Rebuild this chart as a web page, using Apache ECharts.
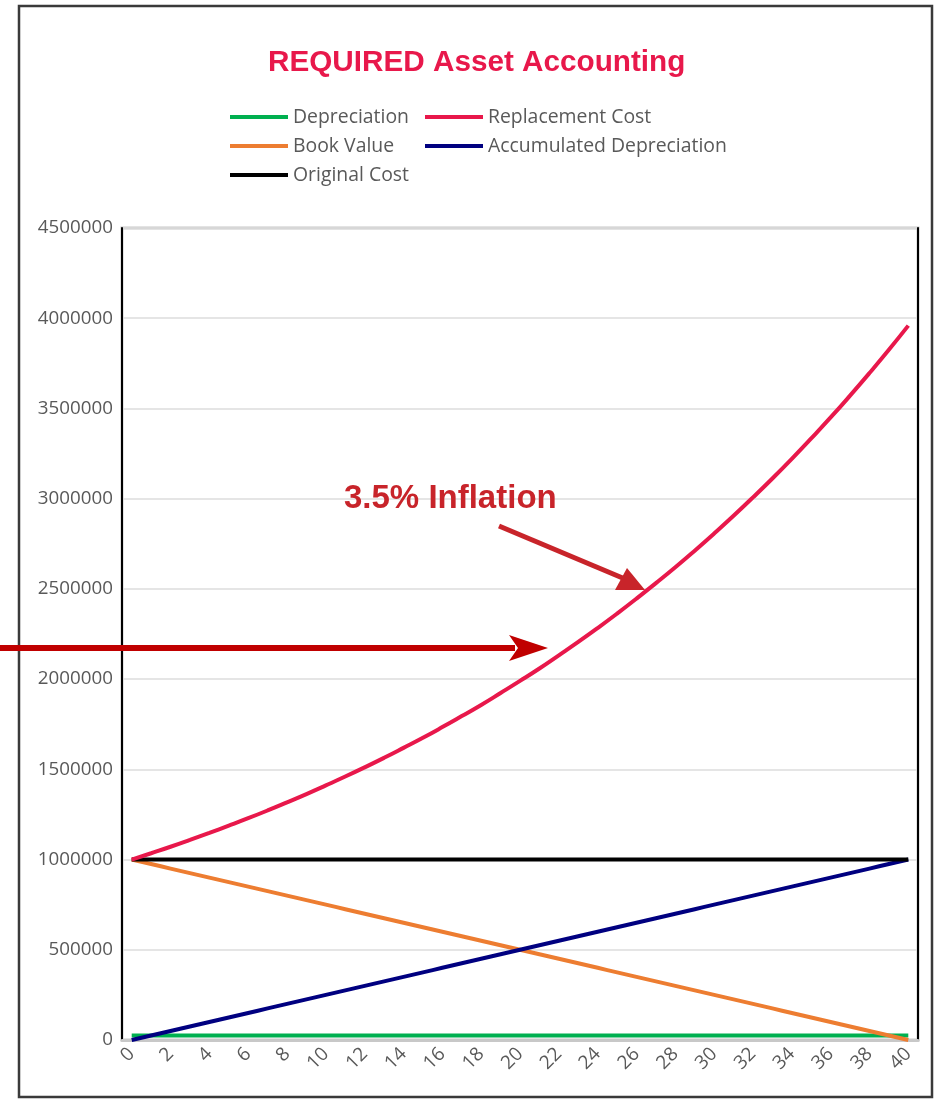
<!DOCTYPE html>
<html>
<head>
<meta charset="utf-8">
<script src="https://cdn.jsdelivr.net/npm/echarts@6/dist/echarts.min.js"></script>
<style>
  html, body { margin: 0; padding: 0; background: #fff; }
  #chart { width: 939px; height: 1099px; }
</style>
</head>
<body>
<div id="chart"></div>
<script>
const years = [];
for (let i = 0; i <= 40; i++) years.push(String(i));

const depreciation = [
  25000, 25000, 25000, 25000, 25000, 25000, 25000, 25000, 25000, 25000, 25000,
  25000, 25000, 25000, 25000, 25000, 25000, 25000, 25000, 25000, 25000,
  25000, 25000, 25000, 25000, 25000, 25000, 25000, 25000, 25000, 25000,
  25000, 25000, 25000, 25000, 25000, 25000, 25000, 25000, 25000, 25000
];
const replacementCost = [
  1000000, 1035000, 1071000, 1109000, 1148000, 1188000, 1229000, 1272000, 1317000, 1363000, 1411000,
  1460000, 1511000, 1564000, 1619000, 1675000, 1734000, 1795000, 1857000, 1923000, 1990000,
  2059000, 2132000, 2206000, 2283000, 2363000, 2446000, 2532000, 2620000, 2712000, 2807000,
  2905000, 3007000, 3112000, 3221000, 3334000, 3450000, 3571000, 3696000, 3825000, 3959000
];
const bookValue = [
  1000000, 975000, 950000, 925000, 900000, 875000, 850000, 825000, 800000, 775000, 750000,
  725000, 700000, 675000, 650000, 625000, 600000, 575000, 550000, 525000, 500000,
  475000, 450000, 425000, 400000, 375000, 350000, 325000, 300000, 275000, 250000,
  225000, 200000, 175000, 150000, 125000, 100000, 75000, 50000, 25000, 0
];
const accumulatedDepreciation = [
  0, 25000, 50000, 75000, 100000, 125000, 150000, 175000, 200000, 225000, 250000,
  275000, 300000, 325000, 350000, 375000, 400000, 425000, 450000, 475000, 500000,
  525000, 550000, 575000, 600000, 625000, 650000, 675000, 700000, 725000, 750000,
  775000, 800000, 825000, 850000, 875000, 900000, 925000, 950000, 975000, 1000000
];
const originalCost = [
  1000000, 1000000, 1000000, 1000000, 1000000, 1000000, 1000000, 1000000, 1000000, 1000000, 1000000,
  1000000, 1000000, 1000000, 1000000, 1000000, 1000000, 1000000, 1000000, 1000000, 1000000,
  1000000, 1000000, 1000000, 1000000, 1000000, 1000000, 1000000, 1000000, 1000000, 1000000,
  1000000, 1000000, 1000000, 1000000, 1000000, 1000000, 1000000, 1000000, 1000000, 1000000
];

const labelColor = "#595959";
const font = "'Open Sans', sans-serif";

function lineSeries(name, data, color) {
  return {
    name: name,
    type: "line",
    data: data,
    showSymbol: false,
    smooth: true,
    lineStyle: { width: 4, color: color },
    itemStyle: { color: color },
  };
}

const legendText = { fontFamily: font, fontSize: 19.4, color: labelColor, lineHeight: 20 };

const chart = echarts.init(document.getElementById("chart"));
chart.setOption({
  animation: false,
  title: {
    text: "REQUIRED Asset Accounting",
    left: 263,
    top: 43,
    textStyle: {
      fontFamily: "'Liberation Sans', Arial, sans-serif",
      fontSize: 29.7,
      fontWeight: "bold",
      color: "#e8184b",
    },
  },
  legend: [
    {
      data: ["Depreciation", "Book Value", "Original Cost"],
      orient: "vertical",
      left: 225,
      top: 102,
      icon: "rect",
      itemWidth: 58,
      itemHeight: 4,
      itemGap: 9,
      textStyle: legendText,
    },
    {
      data: ["Replacement Cost", "Accumulated Depreciation"],
      orient: "vertical",
      left: 420,
      top: 102,
      icon: "rect",
      itemWidth: 58,
      itemHeight: 4,
      itemGap: 9,
      textStyle: legendText,
    },
  ],
  grid: {
    left: 122,
    right: 21,
    top: 228,
    bottom: 59,
    show: true,
    borderColor: "#c8c8c8",
    borderWidth: 3,
  },
  xAxis: {
    type: "category",
    data: years,
    boundaryGap: true,
    axisLine: { show: true, lineStyle: { color: "#c8c8c8", width: 3 } },
    axisTick: { show: false },
    axisLabel: {
      interval: 1,
      rotate: 45,
      margin: 11,
      fontFamily: font,
      fontSize: 19,
      color: labelColor,
    },
    splitLine: { show: false },
  },
  yAxis: [
    {
      type: "value",
      min: 0,
      max: 4500000,
      interval: 500000,
      axisLine: { show: true, lineStyle: { color: "#000", width: 2 } },
      axisTick: { show: false },
      axisLabel: {
        margin: 9,
        fontFamily: font,
        fontSize: 18.8,
        color: labelColor,
        formatter: (v) => String(v),
      },
      splitLine: { show: true, lineStyle: { color: "#dcdcdc", width: 1.5 } },
    },
    {
      type: "value",
      min: 0,
      max: 4500000,
      interval: 500000,
      position: "right",
      axisLine: { show: true, lineStyle: { color: "#000", width: 2 } },
      axisTick: { show: false },
      axisLabel: { show: false },
      splitLine: { show: false },
    },
  ],
  series: [
    lineSeries("Depreciation", depreciation, "#00b050"),
    lineSeries("Book Value", bookValue, "#ed7d31"),
    lineSeries("Accumulated Depreciation", accumulatedDepreciation, "#000080"),
    lineSeries("Original Cost", originalCost, "#000000"),
    lineSeries("Replacement Cost", replacementCost, "#e8184b"),
  ],
  graphic: [
    {
      type: "rect",
      shape: { x: 19, y: 6, width: 913, height: 1091 },
      style: { fill: "none", stroke: "#3a3a3a", lineWidth: 2.5 },
      silent: true,
    },
    {
      type: "text",
      style: {
        text: "3.5% Inflation",
        x: 344,
        y: 499,
        textVerticalAlign: "middle",
        font: "bold 33px 'Liberation Sans', Arial, sans-serif",
        fill: "#c8242a",
      },
      z: 100,
    },
    {
      type: "line",
      shape: { x1: 499, y1: 526, x2: 625, y2: 579 },
      style: { stroke: "#c8242a", lineWidth: 5 },
      z: 100,
    },
    {
      type: "polygon",
      shape: { points: [[645, 590], [615, 590], [627, 568]] },
      style: { fill: "#c8242a" },
      z: 100,
    },
    {
      type: "line",
      shape: { x1: 0, y1: 648, x2: 515, y2: 648 },
      style: { stroke: "#c00000", lineWidth: 6 },
      z: 100,
    },
    {
      type: "polygon",
      shape: { points: [[548, 648], [509, 635], [518, 648], [509, 661]] },
      style: { fill: "#c00000" },
      z: 100,
    },
  ],
});
</script>
</body>
</html>
